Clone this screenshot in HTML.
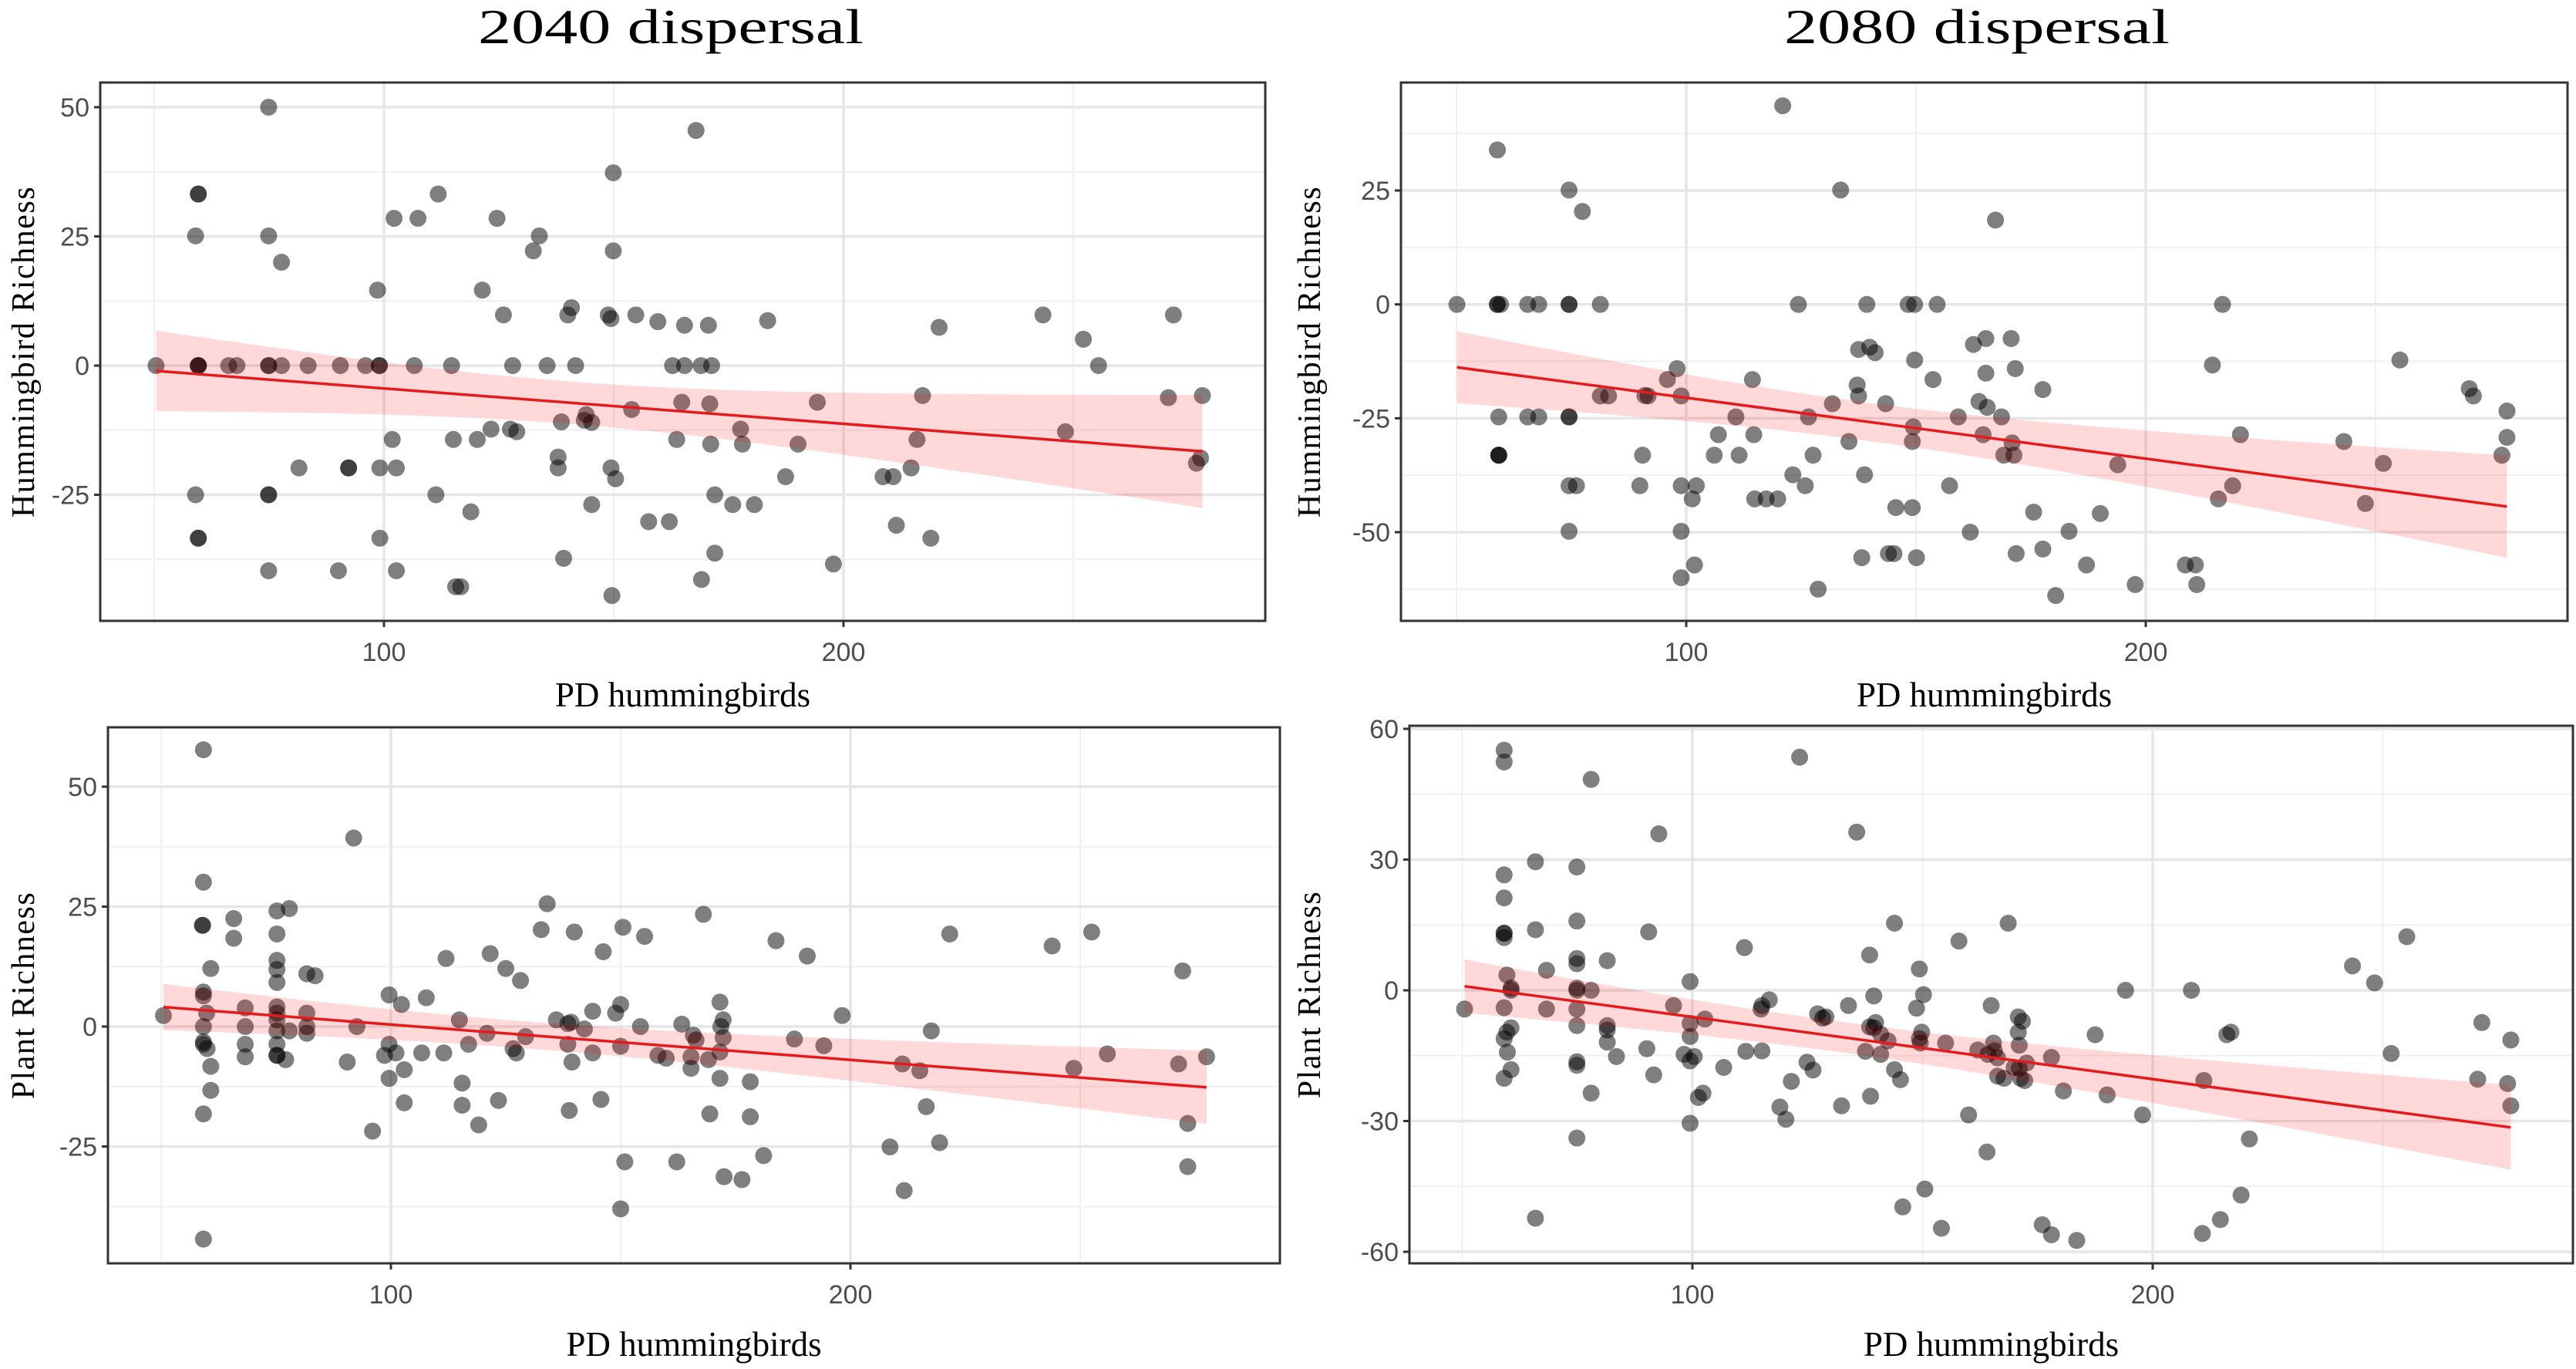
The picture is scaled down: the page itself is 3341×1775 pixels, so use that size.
<!DOCTYPE html>
<html><head><meta charset="utf-8">
<style>
html,body{margin:0;padding:0;background:#fff;}
svg{display:block;}
text{font-family:"Liberation Serif",serif;}
.tick{font-family:"Liberation Sans",sans-serif;font-size:34px;fill:#4d4d4d;}
</style></head>
<body>
<svg id="fig" width="3341" height="1775" viewBox="0 0 3341 1775" xmlns="http://www.w3.org/2000/svg">
<rect width="3341" height="1775" fill="#fff"/>
<text x="870" y="56" font-size="64" text-anchor="middle" textLength="500" lengthAdjust="spacingAndGlyphs">2040 dispersal</text>
<text x="2564" y="56" font-size="64" text-anchor="middle" textLength="500" lengthAdjust="spacingAndGlyphs">2080 dispersal</text>
</svg>
<script>
// ---- data: PD hummingbirds (x) and richness change (y) ----
const tlX=[50.4,59.6,59.6,59,59.6,59.6,59.6,66.2,68,74.9,74.9,77.7,74.9,74.9,77.7,83.5,90.5,96,99,99,106.6,114.7,128,135.5,141.7,162.8,165.4,169,171.3,255.5,59,74.9,74.9,59.6,59.6,74.9,90.1,102.7,81.5,92.3,92.3,99.1,102.7,98.6,102.2,107.4,111.8,124.6,121.4,126,133.8,132.5,140,140.8,148.8,149.4,154.8,159.6,165.4,170.6,183.5,167.9,149.9,149.9,220.8,243.4,252.2,271.8,270.7,278.1,217.2,194.3,164.8,170.9,153.9,144,145.2,143.6,138.6,101.8,115.1,120.3,123.3,127.5,128.9,163.7,171.1,177.6,178,190.1,216,248.3,214.7,208.6,210.8,187.4,137.9,137.9,149.4,150.4,111.3,118.9,145.2,157.6,162.1,172,175.9,180.6,172,169.1,139.1,197.8,211.5,219,115.6,116.7,149.6,99.1,276.8,277.7];
const tlY=[0,33.2,33.2,25.1,0,0,0,0,0,50,25.1,20,0,0,0,0,0,0,0,0,0,0,0,0,0,0,0,0,0,0,-25,-25,-25,-33.4,-33.4,-39.7,-39.7,-39.7,-19.8,-19.8,-19.8,-19.8,-19.8,14.6,28.5,28.5,33.2,28.5,14.6,9.8,25.1,22.2,9.8,11.2,9.8,9.1,9.8,8.5,7.8,7.8,8.7,45.5,37.3,22.2,7.4,9.8,5.1,9.8,-6.2,-5.8,-5.8,-7.1,-7.1,-7.4,-8.5,-9.5,-11,-10.6,-10.9,-14.3,-14.3,-14.3,-12.3,-12.3,-12.8,-14.3,-15.2,-12.3,-15.2,-15.2,-14.3,-12.8,-19.8,-21.5,-21.5,-21.5,-17.7,-19.8,-19.8,-21.9,-25,-28.3,-26.9,-30.2,-30.2,-25,-26.9,-26.9,-36.3,-41.4,-37.3,-38.4,-30.9,-33.4,-42.8,-42.8,-44.5,-33.4,-18.9,-17.9];

const trX=[50.1,58.9,58.9,59.6,65.5,67.9,74.5,74.5,81.3,124.4,139.3,148.3,149.7,154.6,216.7,58.9,74.5,77.4,121,133.6,167.3,59.2,65.5,67.9,74.5,74.5,59.2,59.2,59.2,74.5,76.1,74.5,81.3,83.1,91.7,91,98.9,95.9,98,90.5,89.9,98.9,102.2,101.3,98.9,98.9,101.8,107,106.1,111.5,110.8,114.4,114.7,114.9,117.4,119.9,123.2,125.9,126.6,127.6,128.7,131.8,135.4,137.2,137.5,137.5,139.9,141.1,138.8,138.2,143.4,144,145.2,145.6,149.2,149.2,149.4,149.7,150.1,153.7,157.3,159.2,161.8,162.5,165.2,165.2,163.7,165.5,164.6,170.7,171.6,168.6,169.1,171.3,170.9,171.8,175.6,177.6,177.6,180.4,183.3,187.1,190.1,193.9,197.7,208.6,210.8,211.1,214.5,215.8,218.9,220.6,243.1,247.8,251.7,255.3,270.4,271.3,278.6,278.6,277.5];
const trY=[0,0,0,0,0,0,0,0,0,0,0,0,0,0,0,33.9,25.1,20.4,43.6,25.1,18.5,-24.7,-24.7,-24.7,-24.7,-24.7,-33.1,-33.1,-33.1,-39.8,-39.8,-49.8,-20.1,-20.1,-20.1,-20,-20.1,-16.5,-14.1,-33.1,-39.8,-39.8,-39.8,-42.7,-49.8,-60,-57.2,-28.6,-33.1,-33.1,-24.7,-16.5,-28.6,-42.7,-42.7,-42.7,-37.4,-39.8,-24.7,-33.1,-62.5,-21.8,-30.1,-17.7,-20.1,-9.9,-9.4,-10.6,-37.4,-55.6,-21.8,-54.7,-54.7,-44.6,-44.6,-30.1,-26.9,-12.2,-55.6,-16.5,-39.8,-24.7,-50,-8.8,-7.5,-15.1,-21.3,-22.6,-28.6,-7.5,-14.1,-24.7,-33.1,-33.1,-30.4,-54.7,-45.6,-18.7,-53.7,-63.9,-49.8,-57.2,-45.9,-35.2,-61.5,-57.2,-57.2,-61.5,-13.3,-42.7,-39.8,-28.6,-30.1,-43.7,-34.9,-12.2,-18.5,-20.1,-23.4,-29.2,-33.1];

const blX=[50.5,59.2,59.2,59,59,60.8,59.2,59.2,59.2,59.9,59.2,60,59.2,60.8,60.8,59.2,59.2,65.8,65.8,68.3,68.3,68.3,68.3,75.2,77.9,75.2,75.2,75.2,75.2,75.2,75.2,75.2,75.2,75.2,75.2,75.2,77.1,77.9,81.7,83.5,81.7,81.7,81.7,90.5,92.6,91.9,96,99.6,102.3,98.6,99.6,101.1,99.6,102.9,102.9,106.7,107.7,111.5,112,114.9,115.5,115.5,116.9,120.9,121.6,123.4,125,126.6,127.3,128.2,129.3,119.1,132.7,134,136,138.5,139.2,142.1,138.5,138.8,139.4,139.9,143.9,143.9,145.7,146.2,148.9,150,150,150.5,150,150.9,154.3,155.2,158.1,159.9,162.2,163.3,165.3,165.8,166.4,165.3,168,169.1,169.4,171.6,172.3,171.8,172.3,171.6,171.6,172.5,176.4,178.2,178.2,181.1,183.8,187.8,190.6,194.2,198.2,208.6,211.3,211.7,215.1,216.5,217.6,219.4,221.6,243.9,248.6,252.5,255.9,272.3,271.4,277.5,273.4,273.4];
const blY=[2.3,57.7,30.1,21.1,21.1,12.1,7.2,6.4,0,2.8,-3.7,-4.6,-3.2,-8.3,-13.3,-18.2,-44.3,22.5,18.4,3.9,0,-3.7,-6.3,24.1,24.6,19.3,13.8,11.9,9.2,4.1,2.8,1.4,-0.9,-3.7,-6,-6,-6.9,-0.9,11,10.6,2.8,0,-1.4,-7.4,0,39.3,-21.8,6.6,4.6,-6,-3.7,-5.5,-10.8,-9,-15.9,-5.5,6,-5.5,14.2,1.4,-11.8,-16.4,-3.7,-1.4,15.2,-15.4,12.1,-4.6,-5.5,9.6,-2.1,-20.5,20.2,25.6,1.4,0.6,0.9,-0.5,-3.7,-17.5,-7.4,19.7,3.2,-5.5,-15.2,15.6,2.8,4.6,-4.1,20.7,-38,-28.2,0,18.8,-6,-6.6,-28.2,0.5,-6.3,-1.8,-2.8,-8.7,23.4,-6.9,-18.2,5.1,1.4,0,-2.3,-5.3,-10.8,-31.3,-31.9,-11.5,-18.8,-26.9,17.9,-2.6,14.7,-4,2.3,-25.1,-7.8,-34.2,-9.2,-16.7,-0.9,-24.2,19.3,16.8,-8.7,19.7,-5.7,11.6,-7.8,-6.3,-20.2,-29.2];

const brX=[50.5,59.1,59.1,59.1,59.1,59.1,59.1,59.1,59.7,60.6,60.6,59.1,60.6,59.7,59.1,59.8,60.6,59.1,65.9,65.9,65.9,68.3,68.3,74.9,74.9,74.9,74.9,74.9,74.9,74.9,74.9,74.9,74.9,74.9,78,78,78,81.5,81.5,81.5,81.5,83.5,90.5,90.1,91.6,92.7,95.9,99.5,99.5,99.5,99.5,98.2,100.4,99.5,102.3,101.3,102.7,106.8,111.6,111.3,114.9,116.7,115.1,115.1,119,120.3,121.5,123.3,126.2,124.9,128.3,129,127.2,132.4,133.9,135.7,137.6,139.4,138.5,139.8,138.5,140.9,139.4,142.5,140.9,143.9,145.2,138.7,145.7,143.9,148.7,150.2,149.3,149.8,149.3,149.5,150.5,154.1,155,157.9,160,162,164,164.9,165.4,165.6,164.2,166.3,166.3,167.7,168.6,169.9,171.3,171.7,170.8,170.8,171,172.6,171,172.2,176,178,178,180.6,183.5,187.5,190.1,194.1,197.8,208.4,210.8,211.1,214.7,217,216.1,219.2,221,243.4,248.2,251.8,255.2,270.6,271.5,277.8,277.1,277.8];
const brY=[-4.3,55.1,52.4,26.5,21.2,13.1,13.1,12.1,3.5,0.5,0,-4,-8.6,-9.6,-11.1,-14.2,-18.2,-20.2,-52.3,29.5,13.9,4.6,-4.3,-33.9,28.3,15.9,7.3,6.1,0.5,0,-4.3,-8.1,-16.4,-17.2,-23.6,48.4,0,-8.1,6.8,-9.1,-11.9,-15.2,13.4,-13.4,-19.4,35.9,-3.5,-30.5,2,-7.6,-10.6,-14.7,-15.2,-16.2,-23.6,-24.6,-6.6,-17.7,-14,9.8,-4.3,-2.2,-3.5,-13.9,-26.8,-29.6,-20.9,53.5,-18.3,-16.5,-6.4,-6.1,-5.4,-26.5,-3.5,36.3,-14,-1.3,8.1,-7.4,-8.4,-10.1,-8.6,-11.6,-14.7,-18.2,-20.5,-24.3,-49.7,15.4,-4.1,-1,4.9,-9.6,-11.1,-12.1,-45.6,-54.6,-12.1,11.3,-28.6,-13.7,-37.1,-3.5,-12.1,-13.9,-14.7,-15.5,-19.7,-20.2,15.4,-17.7,-20.2,-7.1,-6.1,-9.6,-12.6,-16.7,-17.9,-20.7,-53.8,-56.1,-15.4,-23.1,-57.4,-10.2,-24,0,-28.6,0,-55.8,-20.7,-52.6,-9.6,-10.2,-47,-34.1,5.6,1.7,-14.5,12.3,-20.4,-7.4,-11.4,-21.4,-26.5,-34.1];

// fitted line values at x = 50 and x = 278
const fitXs=[50,278];
const tlFit=[-1.0,-16.6];
const trFit=[-13.8,-44.3];
const blFit=[4.1,-12.7];
const brFit=[1.0,-31.5];

const xTicks=[100,200];
const xMinor=[50,150,250];
const tlTicks=[-25,0,25,50], tlMinor=[-37.5,-12.5,12.5,37.5];
const trTicks=[-50,-25,0,25], trMinor=[-62.5,-37.5,-12.5,12.5,37.5];
const blTicks=[-25,0,25,50], blMinor=[-37.5,-12.5,12.5,37.5];
const brTicks=[-60,-30,0,30,60], brMinor=[-45,-15,15,45];

const NS='http://www.w3.org/2000/svg';
const svg=document.getElementById('fig');
function mk(tag,attrs,parent){const e=document.createElementNS(NS,tag);for(const k in attrs)e.setAttribute(k,attrs[k]);(parent||svg).appendChild(e);return e;}

const panels=[
 {id:'tl',L:130,R:1641,T:107,B:805,px1:498,px2:1094,py1:[50,139],py2:[0,474],xs:tlX,ys:tlY,fit:tlFit,ticks:tlTicks,minor:tlMinor,ylab:'Hummingbird Richness',ylx:30,xlab:901},
 {id:'tr',L:1817,R:3330,T:107,B:805,px1:2187,px2:2783,py1:[25,247],py2:[-50,690],xs:trX,ys:trY,fit:trFit,ticks:trTicks,minor:trMinor,ylab:'Hummingbird Richness',ylx:1698,xlab:901},
 {id:'bl',L:140,R:1660,T:943,B:1638,px1:507,px2:1103,py1:[50,1020],py2:[0,1331],xs:blX,ys:blY,fit:blFit,ticks:blTicks,minor:blMinor,ylab:'Plant Richness',ylx:30,xlab:1743},
 {id:'br',L:1828,R:3337,T:941,B:1638,px1:2195,px2:2792,py1:[60,945],py2:[-60,1623],xs:brX,ys:brY,fit:brFit,ticks:brTicks,minor:brMinor,ylab:'Plant Richness',ylx:1698,xlab:1743}
];

panels.forEach(p=>{
 const g=mk('g',{});
 
 
 const sx=v=>p.px1+(v-100)*(p.px2-p.px1)/100;
 const sy=v=>p.py1[1]+(v-p.py1[0])*(p.py2[1]-p.py1[1])/(p.py2[0]-p.py1[0]);
 p.minor.forEach(v=>{const l=mk('line',{x1:p.L,x2:p.R,y1:sy(v),y2:sy(v),stroke:'#f0f0f0','stroke-width':2},g);});
 xMinor.forEach(v=>{const l=mk('line',{x1:sx(v),x2:sx(v),y1:p.T,y2:p.B,stroke:'#f0f0f0','stroke-width':2},g);});
 p.ticks.forEach(v=>{const l=mk('line',{x1:p.L,x2:p.R,y1:sy(v),y2:sy(v),stroke:'#e6e6e6','stroke-width':3.5},g);});
 xTicks.forEach(v=>{const l=mk('line',{x1:sx(v),x2:sx(v),y1:p.T,y2:p.B,stroke:'#e6e6e6','stroke-width':3.5},g);});
 const n=p.xs.length;
 for(let i=0;i<n;i++){
  const c=mk('circle',{cx:sx(p.xs[i]),cy:sy(p.ys[i]),r:11,fill:'#000','fill-opacity':0.5},g);
  
  
 }
 // fitted line from read values, CI from residuals
 const b=(p.fit[1]-p.fit[0])/(fitXs[1]-fitXs[0]), a=p.fit[0]-b*fitXs[0];
 let mx=0;for(let i=0;i<n;i++)mx+=p.xs[i];mx/=n;
 let sxx=0,sse=0;for(let i=0;i<n;i++){sxx+=(p.xs[i]-mx)**2;sse+=(p.ys[i]-a-b*p.xs[i])**2;}
 const s=Math.sqrt(sse/(n-2));
 const xmin=Math.min(...p.xs),xmax=Math.max(...p.xs);
 const up=[],lo=[];
 for(let k=0;k<=80;k++){const x=xmin+(xmax-xmin)*k/80;const f=a+b*x;const se=2.2*s*Math.sqrt(1/n+(x-mx)**2/sxx);up.push(sx(x)+','+sy(f+se));lo.unshift(sx(x)+','+sy(f-se));}
 const rib=mk('polygon',{points:up.concat(lo).join(' '),fill:'#ff0000','fill-opacity':0.15},g);
 
 
 const fl=mk('line',{x1:sx(xmin),y1:sy(a+b*xmin),x2:sx(xmax),y2:sy(a+b*xmax),stroke:'#e41a1c','stroke-width':3.5},g);
 
 
 const fr=mk('rect',{x:p.L,y:p.T,width:p.R-p.L,height:p.B-p.T,fill:'none',stroke:'#333','stroke-width':3},g);
 
 
 p.ticks.forEach((v,i)=>{
  mk('line',{x1:p.L-8,x2:p.L,y1:sy(v),y2:sy(v),stroke:'#333','stroke-width':3},g);
  const t=mk('text',{x:p.L-14,y:sy(v)+12,'text-anchor':'end',class:'tick'},g);
  
  
  t.textContent=String(p.ticks[i]);
 });
 xTicks.forEach((v,i)=>{
  mk('line',{x1:sx(v),x2:sx(v),y1:p.B,y2:p.B+8,stroke:'#333','stroke-width':3},g);
  const t=mk('text',{x:sx(v),y:p.B+52,'text-anchor':'middle',class:'tick'},g);
  
  
  t.textContent=String(xTicks[i]);
 });
 const xl=mk('text',{x:(p.L+p.R)/2,y:p.xlab+15,'text-anchor':'middle','font-size':45},g);
 
 
 xl.textContent='PD hummingbirds';
 const yc=(p.T+p.B)/2;
 const yl=mk('text',{x:p.ylx,y:yc,'text-anchor':'middle','font-size':42,'letter-spacing':1.5,transform:'rotate(-90 '+p.ylx+' '+yc+')',dy:14},g);
 
 
 yl.textContent=p.ylab;
});
</script>
</body></html>
